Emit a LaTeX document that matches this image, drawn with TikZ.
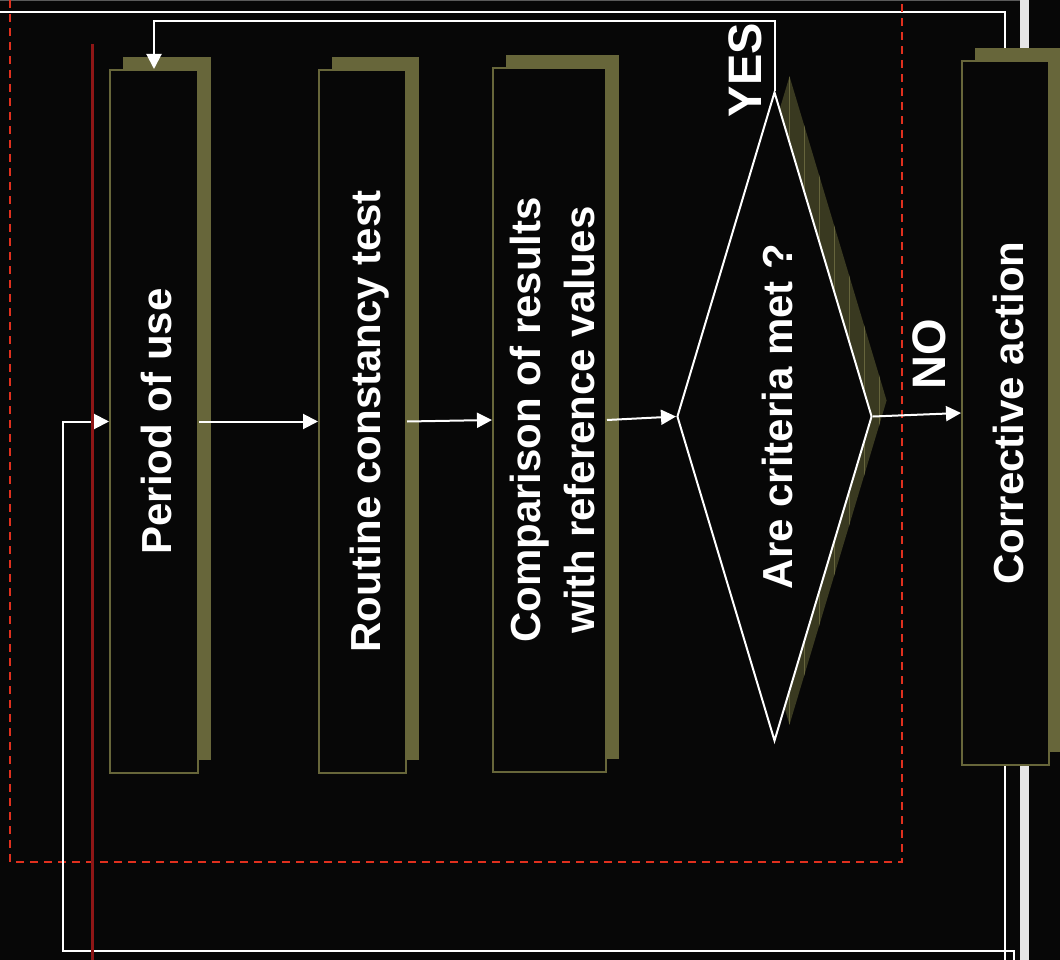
\documentclass[tikz,border=0pt]{standalone}
\usepackage{fontspec}
\setsansfont{Liberation Sans}
\usetikzlibrary{arrows.meta,shapes.geometric,shadows,positioning}
\definecolor{bgblack}{HTML}{070707}
\definecolor{boxolive}{HTML}{67663A}
\definecolor{gridolive}{HTML}{66653C}
\definecolor{diamondshade}{HTML}{393920}
\definecolor{framered}{HTML}{E0301E}
\definecolor{linered}{HTML}{8E1616}
\definecolor{bargray}{HTML}{E6E6E6}
\definecolor{topgray}{HTML}{5A5A5A}
\newcommand{\sidetext}[1]{\rotatebox{90}{\raisebox{-7pt}[\height][\depth]{%
  \begin{tabular}{@{}c@{}}#1\end{tabular}}}}

\begin{document}
\begin{tikzpicture}[x=1pt,y=-1pt,>={Triangle[length=15pt,width=15pt]},
  font=\sffamily\bfseries\fontsize{42}{54}\selectfont,text=white,
  stepbox/.style={draw=boxolive,line width=2pt,fill=bgblack,inner sep=0pt,
    drop shadow={shadow xshift=13pt,shadow yshift=13pt,fill=boxolive,opacity=1}},
  checkbox/.style={diamond,aspect=0.3,draw=white,line width=2pt,fill=bgblack,
    inner sep=0pt,minimum width=195,minimum height=649},
  flowarrow/.style={->,draw=white,line width=2pt},
  flowlabel/.style={rotate=90,inner sep=0pt,
    font=\sffamily\bfseries\fontsize{47}{54}\selectfont}]
  \path[use as bounding box,fill=bgblack] (0,0) rectangle (1060,960);
  % frame lines behind the chart
  \draw[topgray,line width=1.5pt] (0,0.75) -- (1020,0.75);
  \draw[white,line width=2pt] (0,12) -- (1005,12) -- (1005,960);
  \fill[bargray] (1020,0) rectangle (1029,960);
  \draw[framered,line width=2pt,dash pattern=on 8pt off 6pt]
    (10,0) |- (902,862) -- (902,0);
  % steps
  \node[stepbox,minimum width=88,minimum height=703] (period) at (154,421.5)
    {\sidetext{Period of use}};
  \node[stepbox,minimum width=87,minimum height=703] (routine) at (362.5,421.5)
    {\sidetext{Routine constancy test}};
  \node[stepbox,minimum width=113,minimum height=704] (compare) at (549.5,420)
    {\sidetext{Comparison of results\\with reference values}};
  \node[checkbox,draw=none,fill=diamondshade,
    path picture={\draw[gridolive,line width=1pt,step=15]
      (path picture bounding box.south west) grid
      (path picture bounding box.north east);}] (criteriashadow) at (789.5,400.5) {};
  \node[checkbox] (criteria) at (774.5,416.5) {\sidetext{Are criteria met ?}};
  \node[stepbox,minimum width=87,minimum height=704] (corrective) at (1005.5,413)
    {\sidetext{Corrective action}};
  % connectors
  \draw[flowarrow] (period.east) -- (routine.west);
  \draw[flowarrow] (routine.east) -- (compare.west);
  \draw[flowarrow] (compare.east) -- (criteria.west);
  \draw[flowarrow] (criteria.east) -- (corrective.west);
  \draw[flowarrow] (criteria.north) -- ++(0,-70) -| (period.north);
  \coordinate (loopstart) at (1014,960);
  \coordinate (loopcorner) at (63,951);
  \draw[flowarrow] (loopstart) |- (loopcorner) |- (period.west);
  \node[flowlabel] (yeslabel) at (745,70) {YES};
  \node[flowlabel] (nolabel) at (929,354) {NO};
  \draw[linered,line width=3pt] (92,44) -- (92,960);
\end{tikzpicture}
\end{document}
